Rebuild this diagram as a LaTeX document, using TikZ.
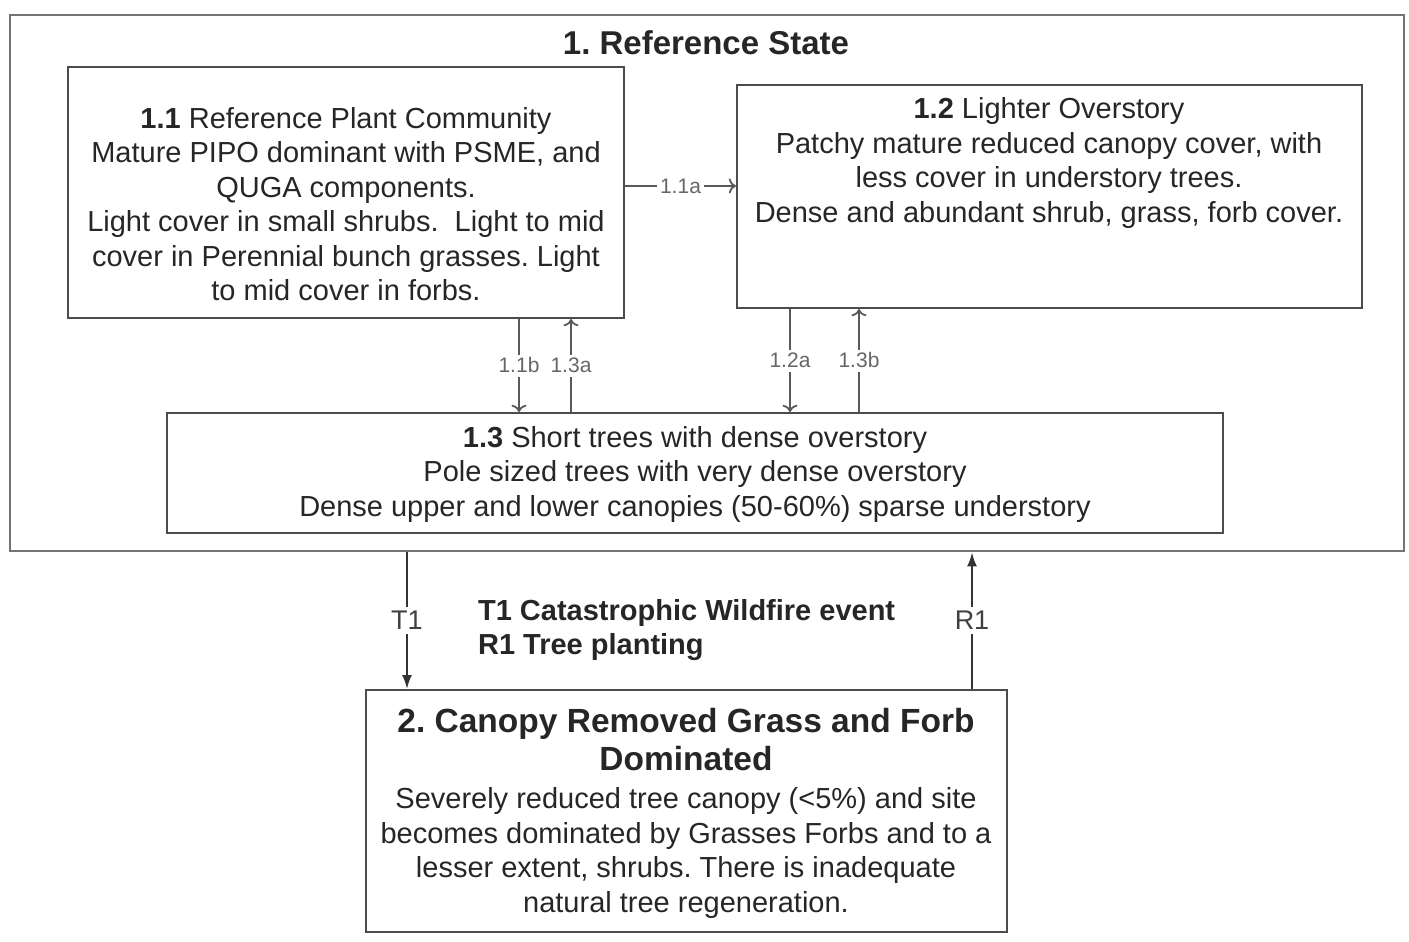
\documentclass[tikz,border=0pt]{standalone}
\usepackage{fontspec}
\setmainfont{Liberation Sans}
\frenchspacing
\usetikzlibrary{arrows.meta}

\begin{document}
\begin{tikzpicture}[x=0.5pt, y=-0.5pt,
  box/.style={draw=black!70, line width=1pt, rectangle, inner sep=0pt},
  txt/.style={align=center, text=black!85, font=\fontsize{14.5}{17.25}\selectfont},
  head/.style={align=center, text=black!85, font=\fontsize{16.75}{19}\selectfont\bfseries},
  lbl/.style={fill=white, text=black!60, inner sep=1.5pt, text height=7.5pt, text depth=0.5pt,
    font=\fontsize{10.5}{12}\selectfont},
  tlbl/.style={fill=white, text=black!75, inner sep=2pt, font=\fontsize{13.5}{15}\selectfont},
  tip/.style={->, draw=black!65, line width=0.9pt},
  big/.style={-{Latex[length=7pt,width=5pt]}, draw=black!80, line width=1pt}]
  \useasboundingbox (0,0) rectangle (1409,942);

  % state boxes
  \node[box, draw=black!55, line width=1.4pt, minimum width=697pt, minimum height=268pt] (S1) at (707,283) {};
  \node[box, minimum width=278pt,   minimum height=125.5pt] (S11) at (346,192.5)  {};
  \node[box, minimum width=312.5pt, minimum height=111.5pt] (S12) at (1049.5,196.5) {};
  \node[box, minimum width=528pt,   minimum height=60pt]    (S13) at (695,473)    {};
  \node[box, minimum width=320.5pt, minimum height=121pt]   (S2)  at (686.5,811)  {};

  % texts
  \node[head, font=\fontsize{16.5}{19}\selectfont\bfseries] (T1head) at (706,43) {1. Reference State};
  \node[txt] (t11) at (346,204) {\textbf{1.1} Reference Plant Community\\
    Mature PIPO dominant with PSME, and\\ QUGA components.\\
    Light cover in small shrubs.\ \ Light to mid\\
    cover in Perennial bunch grasses. Light\\ to mid cover in forbs.};
  \node[txt] (t12) at (1049,163) {\textbf{1.2} Lighter Overstory\\
    Patchy mature reduced canopy cover, with\\ less cover in understory trees.\\
    Dense and abundant shrub, grass, forb cover.};
  \node[txt] (t13) at (695,474) {\textbf{1.3} Short trees with dense overstory\\
    Pole sized trees with very dense overstory\\
    Dense upper and lower canopies (50-60\%) sparse understory};
  \node[head] (t2h) at (686,740) {2. Canopy Removed Grass and Forb\\ Dominated};
  \node[txt] (t2b) at (686,853) {Severely reduced tree canopy (<5\%) and site\\
    becomes dominated by Grasses Forbs and to a\\
    lesser extent, shrubs. There is inadequate\\ natural tree regeneration.};
  \node[txt, align=left, anchor=west, font=\fontsize{14.5}{17.25}\selectfont\bfseries]
    (legend) at (471,630) {T1 Catastrophic Wildfire event\\ R1 Tree planting};

  % pathways
  \draw[tip] (S11.east |- 0,186) -- (S12.west |- 0,186) node[lbl, midway] {1.1a};
  \draw[tip] (S11.south -| 519,0) -- (S13.north -| 519,0) node[lbl, midway] {1.1b};
  \draw[tip] (S13.north -| 571,0) -- (S11.south -| 571,0) node[lbl, midway] {1.3a};
  \draw[tip] (S12.south -| 790,0) -- (S13.north -| 790,0) node[lbl, midway] {1.2a};
  \draw[tip] (S13.north -| 859,0) -- (S12.south -| 859,0) node[lbl, midway] {1.3b};

  % transitions
  \draw[big] (S1.south -| 407,0) -- (S2.north -| 407,0) node[tlbl, midway] {T1};
  \draw[big] (S2.north -| 972,0) -- (S1.south -| 972,0) node[tlbl, midway] {R1};
\end{tikzpicture}
\end{document}
